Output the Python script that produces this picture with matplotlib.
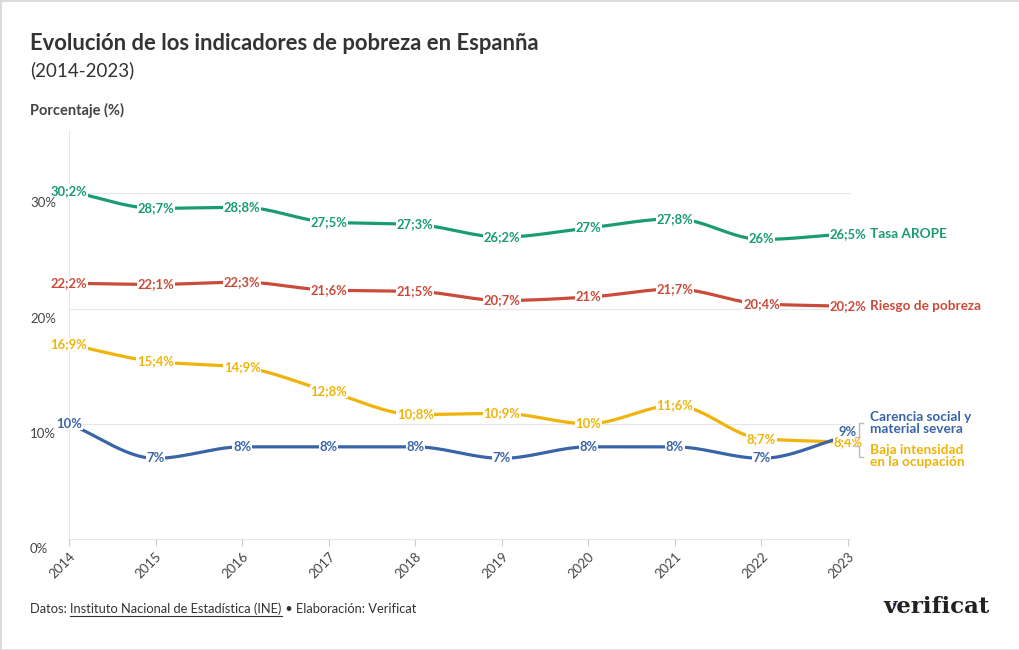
import numpy as np
import matplotlib.pyplot as plt
from matplotlib.patches import Rectangle, Polygon
from matplotlib.lines import Line2D

plt.rcParams['font.family'] = ['Lato', 'DejaVu Sans']

# datos
years = [2014, 2015, 2016, 2017, 2018, 2019, 2020, 2021, 2022, 2023]
arope = [30.2, 28.7, 28.8, 27.5, 27.3, 26.2, 27.0, 27.8, 26.0, 26.5]
riesgo = [22.2, 22.1, 22.3, 21.6, 21.5, 20.7, 21.0, 21.7, 20.4, 20.2]
baja_int = [16.9, 15.4, 14.9, 12.8, 10.8, 10.9, 10.0, 11.6, 8.7, 8.4]
carencia = [10, 7, 8, 8, 8, 7, 8, 8, 7, 9]
y_ticks = [0, 10, 20, 30]

c_green = '#1a9b74'
c_red = '#c94b3a'
c_yellow = '#efb30a'
c_blue = '#3964a7'

W, H = 1020, 650


def fx(px):
    return px / W


def fy(py):
    return 1 - py / H


def monotone(x, y, n=30):
    # curva monotona (tipo d3.curveMonotoneX)
    x = np.asarray(x, float)
    y = np.asarray(y, float)
    h = np.diff(x)
    d = np.diff(y) / h
    m = np.zeros_like(y)
    m[0] = d[0]
    m[-1] = d[-1]
    for i in range(1, len(y) - 1):
        if d[i - 1] * d[i] <= 0:
            m[i] = 0
        else:
            w1 = 2 * h[i] + h[i - 1]
            w2 = h[i] + 2 * h[i - 1]
            m[i] = (w1 + w2) / (w1 / d[i - 1] + w2 / d[i])
    xs, ys = [], []
    for i in range(len(x) - 1):
        t = np.linspace(0, 1, n)
        h00 = 2 * t**3 - 3 * t**2 + 1
        h10 = t**3 - 2 * t**2 + t
        h01 = -2 * t**3 + 3 * t**2
        h11 = t**3 - t**2
        xs.append(x[i] + t * h[i])
        ys.append(h00 * y[i] + h10 * h[i] * m[i] + h01 * y[i + 1] + h11 * h[i] * m[i + 1])
    return np.concatenate(xs), np.concatenate(ys)


def fmt(v):
    s = ('%.1f' % v).rstrip('0').rstrip('.')
    return s.replace('.', ';') + '%'


fig = plt.figure(figsize=(10.2, 6.5), dpi=100)
ax = fig.add_axes([fx(69), fy(539), fx(848 - 69), (539 - 130) / H])
ax.set_xlim(2014, 2023)
ax.set_ylim(0, 35.5)
for s in ax.spines.values():
    s.set_visible(False)
ax.axvline(2014, color='#e6e6e6', lw=0.8, zorder=0)
ax.set_yticks([])
for t in y_ticks:
    ax.axhline(t, xmin=0, xmax=1.003, color='#e6e6e6', lw=0.8, zorder=0, clip_on=False)
    ypix = ax.transData.transform((2014, t))[1]
    fig.text(fx(30), ypix / H - 10 / H, '%d%%' % t, fontsize=9.5, color='#444444',
             va='center', ha='left')

ax.set_xticks(years)
ax.set_xticklabels([str(y) for y in years], rotation=45, ha='right', va='top',
                   rotation_mode='anchor', fontsize=9.5, color='#444444')
ax.tick_params(axis='x', length=5, width=0.8, color='#cccccc', pad=3)

series = [
    (arope, c_green),
    (riesgo, c_red),
    (baja_int, c_yellow),
    (carencia, c_blue),
]
for vals, col in series:
    xs, ys = monotone(years, vals)
    ax.plot(xs, ys, color=col, lw=2.3, solid_capstyle='round', zorder=2, clip_on=False)

for vals, col in series:
    for i, (x, v) in enumerate(zip(years, vals)):
        dy = 0.3 if (vals is carencia and i == len(vals) - 1) else 0
        ax.text(x, v + dy, fmt(v), color=col, fontsize=9.4, fontweight='bold',
                ha='center', va='center', zorder=4, clip_on=False,
                bbox=dict(boxstyle='square,pad=0.05', fc='white', ec='none'))

# etiquetas a la derecha
lab_fs = 9.8
fig.text(fx(870), fy(234), 'Tasa AROPE', color=c_green, fontsize=lab_fs, fontweight='bold', va='center')
fig.text(fx(870), fy(306), 'Riesgo de pobreza', color=c_red, fontsize=lab_fs, fontweight='bold', va='center')
fig.text(fx(870), fy(423), 'Carencia social y\nmaterial severa', color=c_blue, fontsize=lab_fs,
         fontweight='bold', va='center', linespacing=0.95)
fig.text(fx(870), fy(456), 'Baja intensidad\nen la ocupación', color=c_yellow, fontsize=lab_fs,
         fontweight='bold', va='center', linespacing=0.95)

gray = '#bbbbbb'
fig.add_artist(Line2D([fx(855), fx(859), fx(859), fx(863)], [fy(437), fy(437), fy(423), fy(423)],
                      color=gray, lw=1))
fig.add_artist(Line2D([fx(855), fx(859), fx(859), fx(863)], [fy(446), fy(446), fy(457), fy(457)],
                      color=gray, lw=1))

# titulos
fig.text(fx(30), fy(43), 'Evolución de los indicadores de pobreza en Espanña', fontsize=15.8,
         fontweight='bold', color='#333333', va='center')
fig.text(fx(30), fy(70), '(2014-2023)', fontsize=13.5, color='#333333', va='center')
fig.text(fx(30), fy(110), 'Porcentaje (%)', fontsize=10.5, fontweight='bold', color='#444444', va='center')

# pie
foot_fs = 9.3
t1 = fig.text(fx(30), fy(609), 'Datos: ', fontsize=foot_fs, color='#333333', va='center')
fig.canvas.draw()
r = fig.canvas.get_renderer()
bb = t1.get_window_extent(r)
t2 = fig.text(bb.x1 / W, fy(609), 'Instituto Nacional de Estadística (INE)', fontsize=foot_fs,
              color='#333333', va='center')
bb2 = t2.get_window_extent(r)
fig.add_artist(Line2D([bb2.x0 / W, bb2.x1 / W], [fy(616), fy(616)], color='#333333', lw=0.8))
fig.text(bb2.x1 / W, fy(609), ' • Elaboración: Verificat', fontsize=foot_fs, color='#333333', va='center')

# logo
logo = fig.text(fx(990), fy(607), 'verificat', fontsize=16.5, fontweight='bold', family='DejaVu Serif',
                color='#222222', ha='right', va='center')
lb = logo.get_window_extent(r)
vx = lb.x0 + 9
vy = lb.y0 + 15
fig.add_artist(Polygon([[vx / W, vy / H], [(vx + 4) / W, vy / H], [(vx + 1.5) / W, (vy - 6) / H]],
                       closed=True, fc='#2b4fd6', ec='none', transform=fig.transFigure))

fig.add_artist(Rectangle((0, 0), 1, 1, transform=fig.transFigure, fill=False,
                         ec='#d9d9d9', lw=2))

fig.savefig('out.png', dpi=100)
